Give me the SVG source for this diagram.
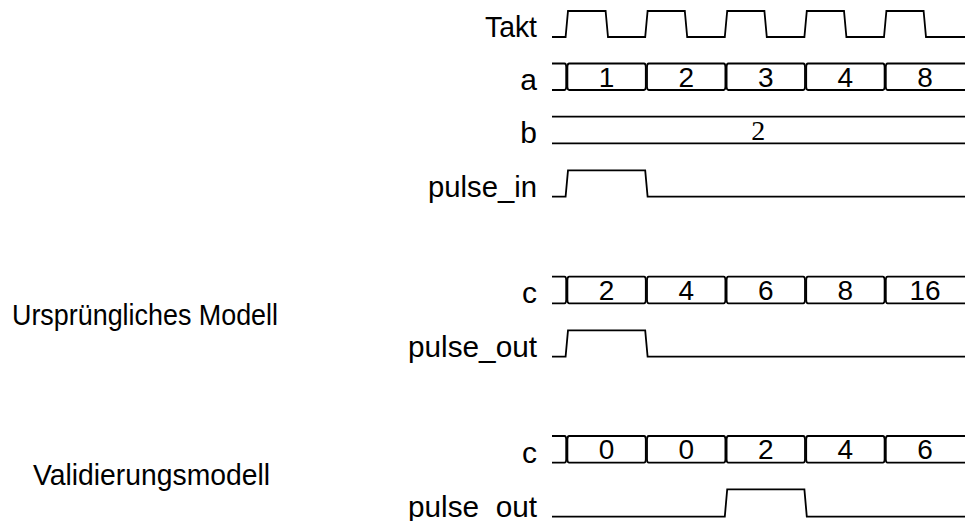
<svg xmlns="http://www.w3.org/2000/svg" width="965" height="521" viewBox="0 0 965 521">
  <style>
    .lbl { font-family: "Liberation Sans", Arial, sans-serif; font-size: 30px; fill: #000; text-anchor: end; }
    .side { font-family: "Liberation Sans", Arial, sans-serif; font-size: 30px; fill: #000; }
    .val { font-family: "Liberation Sans", Arial, sans-serif; font-size: 28px; fill: #000; text-anchor: middle; }
    .valserif { font-family: "Liberation Serif", "Times New Roman", serif; font-size: 28px; fill: #000; text-anchor: middle; }
    .wave { fill: none; stroke: #000; stroke-width: 1.8; stroke-linejoin: miter; }
  </style>
  <rect width="965" height="521" fill="#fff"/>

  <!-- model captions -->
  <text class="side" x="12" y="325" textLength="266" lengthAdjust="spacingAndGlyphs">Ursprüngliches Modell</text>
  <text class="side" x="33" y="485" textLength="237" lengthAdjust="spacingAndGlyphs">Validierungsmodell</text>

  <!-- clock -->
  <g id="takt">
    <text class="lbl" x="537" y="37" textLength="52" lengthAdjust="spacingAndGlyphs">Takt</text>
    <path class="wave" d="M552,37 H565.6 L568,11 H605.6 L608,37 H645.2 L647.6,11 H684.8 L687.2,37 H724.8 L727.2,11 H764.4 L766.8,37 H804.4 L806.8,11 H844 L846.4,37 H884 L886.4,11 H923.6 L926,37 H965"/>
  </g>

  <!-- input a -->
  <g id="sig-a">
    <text class="lbl" x="537" y="90">a</text>
    <path class="wave" d="M552,63.5 H564.5 Q566.2,63.5 566.2,67 V86.5 Q566.2,90 564.5,90 H552"/>
    <path class="wave" d="M569.2,63.5 H644 Q645.8,63.5 645.8,67 V86.5 Q645.8,90 644,90 H569.2 Q567.4,90 567.4,86.5 V67 Q567.4,63.5 569.2,63.5 Z"/>
    <path class="wave" d="M648.8,63.5 H723.6 Q725.4,63.5 725.4,67 V86.5 Q725.4,90 723.6,90 H648.8 Q647,90 647,86.5 V67 Q647,63.5 648.8,63.5 Z"/>
    <path class="wave" d="M728.4,63.5 H803.2 Q805,63.5 805,67 V86.5 Q805,90 803.2,90 H728.4 Q726.6,90 726.6,86.5 V67 Q726.6,63.5 728.4,63.5 Z"/>
    <path class="wave" d="M808,63.5 H882.8 Q884.6,63.5 884.6,67 V86.5 Q884.6,90 882.8,90 H808 Q806.2,90 806.2,86.5 V67 Q806.2,63.5 808,63.5 Z"/>
    <path class="wave" d="M965,63.5 H887.6 Q885.8,63.5 885.8,67 V86.5 Q885.8,90 887.6,90 H965"/>
    <text class="val" x="606.6" y="86.5">1</text>
    <text class="val" x="686.2" y="86.5">2</text>
    <text class="val" x="765.8" y="86.5">3</text>
    <text class="val" x="845.4" y="86.5">4</text>
    <text class="val" x="925" y="86.5">8</text>
  </g>

  <!-- input b -->
  <g id="sig-b">
    <text class="lbl" x="537" y="143">b</text>
    <path class="wave" d="M552,116.7 H965 M552,143.3 H965"/>
    <text class="valserif" x="758.3" y="140">2</text>
  </g>

  <!-- pulse_in -->
  <g id="pulse-in">
    <text class="lbl" x="537" y="197" textLength="109" lengthAdjust="spacingAndGlyphs">pulse_in</text>
    <path class="wave" d="M552,196.7 H565.6 L568,170.3 H645.2 L647.6,196.7 H965"/>
  </g>

  <!-- original model: c -->
  <g id="orig-c">
    <text class="lbl" x="537" y="303">c</text>
    <path class="wave" d="M552,276.7 H564.5 Q566.2,276.7 566.2,280.2 V299.8 Q566.2,303.3 564.5,303.3 H552"/>
    <path class="wave" d="M569.2,276.7 H644 Q645.8,276.7 645.8,280.2 V299.8 Q645.8,303.3 644,303.3 H569.2 Q567.4,303.3 567.4,299.8 V280.2 Q567.4,276.7 569.2,276.7 Z"/>
    <path class="wave" d="M648.8,276.7 H723.6 Q725.4,276.7 725.4,280.2 V299.8 Q725.4,303.3 723.6,303.3 H648.8 Q647,303.3 647,299.8 V280.2 Q647,276.7 648.8,276.7 Z"/>
    <path class="wave" d="M728.4,276.7 H803.2 Q805,276.7 805,280.2 V299.8 Q805,303.3 803.2,303.3 H728.4 Q726.6,303.3 726.6,299.8 V280.2 Q726.6,276.7 728.4,276.7 Z"/>
    <path class="wave" d="M808,276.7 H882.8 Q884.6,276.7 884.6,280.2 V299.8 Q884.6,303.3 882.8,303.3 H808 Q806.2,303.3 806.2,299.8 V280.2 Q806.2,276.7 808,276.7 Z"/>
    <path class="wave" d="M965,276.7 H887.6 Q885.8,276.7 885.8,280.2 V299.8 Q885.8,303.3 887.6,303.3 H965"/>
    <text class="val" x="606.6" y="300">2</text>
    <text class="val" x="686.2" y="300">4</text>
    <text class="val" x="765.8" y="300">6</text>
    <text class="val" x="845.4" y="300">8</text>
    <text class="val" x="925" y="300">16</text>
  </g>

  <!-- original model: pulse_out -->
  <g id="orig-pulse-out">
    <text class="lbl" x="537" y="357" textLength="129" lengthAdjust="spacingAndGlyphs">pulse_out</text>
    <path class="wave" d="M552,356.7 H565.6 L568,330.3 H645.2 L647.6,356.7 H965"/>
  </g>

  <!-- validation model: c -->
  <g id="valid-c">
    <text class="lbl" x="537" y="462.7">c</text>
    <path class="wave" d="M552,436 H564.5 Q566.2,436 566.2,439.5 V459.2 Q566.2,462.7 564.5,462.7 H552"/>
    <path class="wave" d="M569.2,436 H644 Q645.8,436 645.8,439.5 V459.2 Q645.8,462.7 644,462.7 H569.2 Q567.4,462.7 567.4,459.2 V439.5 Q567.4,436 569.2,436 Z"/>
    <path class="wave" d="M648.8,436 H723.6 Q725.4,436 725.4,439.5 V459.2 Q725.4,462.7 723.6,462.7 H648.8 Q647,462.7 647,459.2 V439.5 Q647,436 648.8,436 Z"/>
    <path class="wave" d="M728.4,436 H803.2 Q805,436 805,439.5 V459.2 Q805,462.7 803.2,462.7 H728.4 Q726.6,462.7 726.6,459.2 V439.5 Q726.6,436 728.4,436 Z"/>
    <path class="wave" d="M808,436 H882.8 Q884.6,436 884.6,439.5 V459.2 Q884.6,462.7 882.8,462.7 H808 Q806.2,462.7 806.2,459.2 V439.5 Q806.2,436 808,436 Z"/>
    <path class="wave" d="M965,436 H887.6 Q885.8,436 885.8,439.5 V459.2 Q885.8,462.7 887.6,462.7 H965"/>
    <text class="val" x="606.6" y="459.4">0</text>
    <text class="val" x="686.2" y="459.4">0</text>
    <text class="val" x="765.8" y="459.4">2</text>
    <text class="val" x="845.4" y="459.4">4</text>
    <text class="val" x="925" y="459.4">6</text>
  </g>

  <!-- validation model: pulse_out -->
  <g id="valid-pulse-out">
    <text class="lbl" x="537" y="516.7" textLength="129" lengthAdjust="spacingAndGlyphs">pulse_out</text>
    <path class="wave" d="M552,516.7 H724.8 L727.2,489.3 H804.4 L806.8,516.7 H965"/>
  </g>
</svg>
